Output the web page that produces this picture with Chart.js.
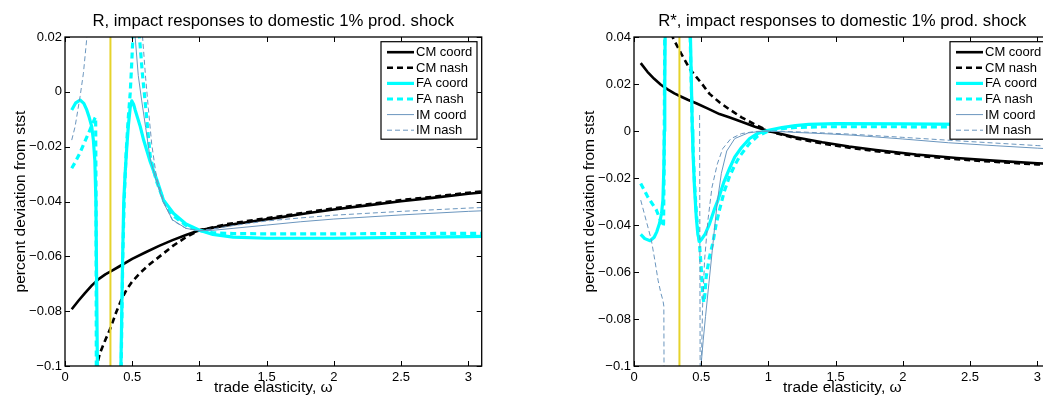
<!DOCTYPE html>
<html><head><meta charset="utf-8">
<script src="https://cdn.jsdelivr.net/npm/chart.js@4.4.1/dist/chart.umd.min.js"></script>
<style>
html,body{margin:0;padding:0;background:#fff;overflow:hidden;width:1043px;height:401px;}
.wrap{position:absolute;top:0;}
canvas{display:block;}
</style></head><body>
<div class="wrap" style="left:0px"><canvas id="c1" width="521" height="401"></canvas></div>
<div class="wrap" style="left:569px"><canvas id="c2" width="521" height="401"></canvas></div>
<script>
// ---------- data (omega, percent deviation); [w, null] = gap ----------
const seriesLabels = ['CM coord','CM nash','FA coord','FA nash','IM coord','IM nash'];
const yellowOmega = 0.338;
const xTicks = [0, 0.5, 1, 1.5, 2, 2.5, 3];
const yTicksR = [-0.1, -0.08, -0.06, -0.04, -0.02, 0, 0.02];
const yTicksS = [-0.1, -0.08, -0.06, -0.04, -0.02, 0, 0.02, 0.04];

// Left panel: R
const R_CMcoord = [[0.05,-0.0793],[0.1,-0.0762],[0.15,-0.0733],[0.2,-0.0706],[0.25,-0.0683],[0.3,-0.0666],[0.35,-0.0652],[0.4,-0.0638],[0.5,-0.0609],[0.6,-0.0585],[0.7,-0.0562],[0.8,-0.0541],[0.9,-0.0522],[1.0,-0.0505],[1.2,-0.0487],[1.4,-0.0472],[1.6,-0.0458],[1.8,-0.0443],[2.0,-0.0429],[2.25,-0.0414],[2.5,-0.0399],[2.75,-0.0386],[3.0,-0.0372],[3.1,-0.0367]];
const R_CMnash = [[0.2,-0.16],[0.22,-0.118],[0.236,-0.1],[0.26,-0.0953],[0.3,-0.0905],[0.34,-0.0860],[0.38,-0.0805],[0.42,-0.0757],[0.46,-0.0720],[0.5,-0.0692],[0.56,-0.0660],[0.62,-0.0633],[0.7,-0.0602],[0.8,-0.0563],[0.9,-0.0530],[1.0,-0.0505],[1.2,-0.0483],[1.4,-0.0468],[1.6,-0.0454],[1.8,-0.0439],[2.0,-0.0425],[2.25,-0.0410],[2.5,-0.0395],[2.75,-0.0382],[3.0,-0.0368],[3.1,-0.0363]];
const R_FAcoord = [[0.05,-0.0066],[0.08,-0.0040],[0.112,-0.0030],[0.14,-0.0042],[0.162,-0.0066],[0.18,-0.0093],[0.199,-0.0127],[0.211,-0.0176],[0.222,-0.0250],[0.23,-0.0400],[0.241,-0.1],[0.245,-0.13],[0.33,null],[0.412,-0.13],[0.416,-0.1],[0.428,-0.062],[0.437,-0.040],[0.447,-0.030],[0.46,-0.020],[0.472,-0.0120],[0.485,-0.0058],[0.497,-0.0033],[0.51,-0.0045],[0.522,-0.0066],[0.54,-0.0095],[0.56,-0.0127],[0.585,-0.0176],[0.634,-0.0255],[0.684,-0.0322],[0.733,-0.0395],[0.808,-0.0444],[0.9,-0.0482],[1.0,-0.0505],[1.1,-0.0520],[1.25,-0.0530],[1.5,-0.0534],[2.0,-0.0534],[2.5,-0.0531],[3.0,-0.0528],[3.1,-0.0527]];
const R_FAnash = [[0.05,-0.0279],[0.08,-0.0253],[0.112,-0.0222],[0.14,-0.0190],[0.174,-0.0152],[0.2,-0.0122],[0.222,-0.0097],[0.228,-0.0092],[0.231,-0.04],[0.234,-0.13],[0.33,null],[0.414,-0.13],[0.418,-0.1],[0.43,-0.06],[0.44,-0.04],[0.455,-0.022],[0.47,-0.010],[0.485,-0.0005],[0.495,0.009],[0.505,0.02],[0.512,0.04],[0.516,0.07],[0.52,null],[0.528,0.08],[0.54,0.035],[0.554,0.02],[0.575,0.007],[0.595,-0.003],[0.615,-0.0135],[0.634,-0.0235],[0.68,-0.0325],[0.735,-0.0398],[0.8,-0.0450],[0.9,-0.0487],[1.0,-0.0506],[1.1,-0.0514],[1.25,-0.0517],[1.5,-0.0518],[2.0,-0.0518],[2.5,-0.0517],[3.1,-0.0516]];
const R_IMcoord = [[0.49,0.08],[0.51,0.035],[0.522,0.02],[0.545,0.006],[0.57,-0.003],[0.6,-0.013],[0.634,-0.0245],[0.68,-0.0325],[0.733,-0.0405],[0.8,-0.0467],[0.9,-0.0498],[1.0,-0.0507],[1.1,-0.0505],[1.25,-0.0498],[1.5,-0.0486],[1.75,-0.0474],[2.0,-0.0464],[2.5,-0.0449],[3.0,-0.0436],[3.1,-0.0434]];
const R_IMnash = [[0.05,-0.0176],[0.075,-0.0127],[0.112,-0.0018],[0.137,0.0068],[0.162,0.0195],[0.18,0.03],[0.2,null],[0.55,0.07],[0.565,0.035],[0.577,0.02],[0.6,0.005],[0.62,-0.006],[0.645,-0.019],[0.68,-0.031],[0.735,-0.0402],[0.8,-0.0469],[0.9,-0.0498],[1.0,-0.0506],[1.1,-0.0500],[1.25,-0.0488],[1.5,-0.0471],[1.75,-0.0460],[2.0,-0.0450],[2.5,-0.0436],[3.0,-0.0424],[3.1,-0.0422]];

// Right panel: R*
const S_CMcoord = [[0.05,0.0289],[0.1,0.0252],[0.15,0.0222],[0.2,0.0197],[0.25,0.0177],[0.3,0.0160],[0.34,0.0149],[0.4,0.0133],[0.463,0.0118],[0.55,0.0095],[0.636,0.0072],[0.713,0.0057],[0.8,0.0039],[0.9,0.0018],[1.0,0.0],[1.2,-0.0027],[1.4,-0.0048],[1.6,-0.0066],[1.8,-0.0081],[2.1,-0.0100],[2.4,-0.0115],[2.7,-0.0127],[3.0,-0.0137],[3.1,-0.0140]];
const S_CMnash = [[0.26,0.05],[0.28,0.0415],[0.29,0.0396],[0.35,0.0330],[0.414,0.0265],[0.463,0.0230],[0.5,0.0205],[0.562,0.0158],[0.64,0.0120],[0.71,0.0092],[0.8,0.0058],[0.9,0.0028],[1.0,0.0],[1.2,-0.0031],[1.4,-0.0053],[1.6,-0.0071],[1.8,-0.0086],[2.1,-0.0105],[2.4,-0.0120],[2.7,-0.0132],[3.0,-0.0142],[3.1,-0.0145]];
const S_FAcoord = [[0.05,-0.0440],[0.08,-0.0458],[0.12,-0.0467],[0.15,-0.0452],[0.17,-0.0428],[0.19,-0.0393],[0.205,-0.0350],[0.215,-0.0294],[0.222,-0.0160],[0.226,0.0],[0.229,0.02],[0.233,0.05],[0.3,null],[0.41,0.07],[0.42,0.04],[0.434,0.0005],[0.438,-0.008],[0.45,-0.024],[0.463,-0.0365],[0.475,-0.0440],[0.488,-0.0471],[0.5,-0.0463],[0.53,-0.0438],[0.562,-0.0395],[0.6,-0.0330],[0.625,-0.0294],[0.67,-0.0215],[0.71,-0.0160],[0.75,-0.0110],[0.8,-0.0070],[0.86,-0.0032],[0.92,-0.0010],[1.0,0.0003],[1.1,0.0015],[1.2,0.0023],[1.3,0.0028],[1.5,0.0031],[2.0,0.0030],[2.5,0.0028],[3.1,0.0026]];
const S_FAnash = [[0.05,-0.0223],[0.1,-0.0278],[0.166,-0.0336],[0.19,-0.0370],[0.215,-0.0407],[0.22,-0.0395],[0.224,-0.015],[0.227,0.02],[0.23,0.06],[0.3,null],[0.41,0.07],[0.418,0.04],[0.434,0.0],[0.45,-0.022],[0.465,-0.036],[0.487,-0.048],[0.5,-0.058],[0.512,-0.0706],[0.52,-0.0730],[0.527,-0.0700],[0.537,-0.0620],[0.56,-0.0540],[0.586,-0.0478],[0.61,-0.0400],[0.636,-0.0336],[0.67,-0.0260],[0.71,-0.0194],[0.75,-0.0145],[0.785,-0.0109],[0.86,-0.0052],[0.92,-0.0022],[1.0,0.0],[1.1,0.0010],[1.2,0.0015],[1.4,0.0018],[2.0,0.0018],[3.1,0.0016]];
const S_IMcoord = [[0.495,-0.13],[0.5,-0.099],[0.515,-0.089],[0.532,-0.079],[0.557,-0.065],[0.582,-0.051],[0.6,-0.041],[0.62,-0.030],[0.65,-0.018],[0.69,-0.0085],[0.75,-0.0032],[0.85,-0.0008],[0.95,-0.0001],[1.0,0.0],[1.2,-0.0006],[1.4,-0.0011],[1.63,-0.0018],[2.0,-0.0034],[2.34,-0.0050],[2.7,-0.0063],[3.0,-0.0073],[3.1,-0.0076]];
const S_IMnash = [[0.05,-0.0294],[0.09,-0.0380],[0.129,-0.0464],[0.155,-0.0550],[0.179,-0.0635],[0.2,-0.0690],[0.215,-0.0720],[0.222,-0.0745],[0.226,-0.15],[0.3,null],[0.488,0.0068],[0.494,-0.15],[0.4955,null],[0.497,-0.15],[0.501,-0.1],[0.51,-0.075],[0.525,-0.055],[0.55,-0.038],[0.58,-0.024],[0.62,-0.014],[0.66,-0.0075],[0.72,-0.0033],[0.8,-0.0011],[0.9,-0.0002],[1.0,0.0],[1.2,-0.0003],[1.6,-0.0013],[2.0,-0.0027],[2.5,-0.0045],[3.0,-0.0062],[3.1,-0.0065]];

// ---------- styling ----------
const FONT = '"Liberation Sans", Arial, Helvetica, sans-serif';
const IMCOL = '#6b96be';
const styles = [
  {color:'#000000', width:2.6, dash:[]},
  {color:'#000000', width:2.6, dash:[6,4]},
  {color:'#00ffff', width:3.2, dash:[]},
  {color:'#00ffff', width:3.2, dash:[6,4]},
  {color:IMCOL, width:1, dash:[]},
  {color:IMCOL, width:1, dash:[5,3]}
];
const toXY = arr => arr.map(p => ({x:p[0], y:p[1]}));
const fmt = v => { const r = Math.round(v*1000)/1000; if (r === 0) return '0'; return (r < 0 ? '\u2212' : '') + String(Math.abs(r)); };

const matlabDecor = {
  id: 'matlabDecor',
  afterDatasetsDraw(chart) {
    const {ctx, chartArea: a, scales: {x, y}} = chart;
    const TL = 5;
    ctx.save();
    // frame
    ctx.strokeStyle = '#000'; ctx.lineWidth = 1.3; ctx.setLineDash([]);
    ctx.strokeRect(a.left, a.top, a.right - a.left, a.bottom - a.top);
    ctx.lineWidth = 1;
    ctx.beginPath();
    x.ticks.forEach(t => { const px = Math.round(x.getPixelForValue(t.value)) + 0.5;
      ctx.moveTo(px, a.bottom); ctx.lineTo(px, a.bottom - TL); ctx.moveTo(px, a.top); ctx.lineTo(px, a.top + TL); });
    y.ticks.forEach(t => { const py = Math.round(y.getPixelForValue(t.value)) + 0.5;
      ctx.moveTo(a.left, py); ctx.lineTo(a.left + TL, py); ctx.moveTo(a.right, py); ctx.lineTo(a.right - TL, py); });
    ctx.stroke();
    // title
    ctx.fillStyle = '#000'; ctx.font = '16.7px ' + FONT; ctx.textAlign = 'center'; ctx.textBaseline = 'alphabetic';
    ctx.fillText(chart.options.plugins.matlabDecor.title, (a.left + a.right) / 2, 26);
    // legend
    const boxW = 96, boxH = 97.5, rowH = 15.6;
    const bx = a.right - 4.7 - boxW, by = a.top + 4.7;
    ctx.fillStyle = '#fff'; ctx.fillRect(bx, by, boxW, boxH);
    ctx.strokeStyle = '#000'; ctx.lineWidth = 1.2; ctx.strokeRect(bx, by, boxW, boxH);
    ctx.font = '13px ' + FONT; ctx.textAlign = 'left'; ctx.textBaseline = 'middle';
    chart.data.datasets.filter(d => d.inLegend).forEach((d, i) => {
      const ry = by + 10.5 + i * rowH;
      ctx.beginPath(); ctx.strokeStyle = d.borderColor; ctx.lineWidth = d.borderWidth; ctx.setLineDash(d.borderDash || []);
      ctx.moveTo(bx + 6, ry); ctx.lineTo(bx + 33, ry); ctx.stroke();
      ctx.setLineDash([]); ctx.fillStyle = '#000'; ctx.fillText(d.label, bx + 35, ry + 0.5);
    });
    ctx.restore();
  }
};

function makeChart(id, title, series, ymin, ymax, yTicks) {
  const datasets = series.map((s, i) => ({
    label: seriesLabels[i], data: toXY(s), inLegend: true,
    borderColor: styles[i].color, borderWidth: styles[i].width, borderDash: styles[i].dash,
    pointRadius: 0, tension: 0, spanGaps: false, fill: false,
    borderCapStyle: 'butt', borderJoinStyle: 'round', order: 7 - i
  }));
  datasets.push({label: 'yellow', data: toXY([[yellowOmega, -1], [yellowOmega, 1]]), inLegend: false,
    borderColor: '#e6d32c', borderWidth: 2, pointRadius: 0, fill: false, order: 0});
  return new Chart(document.getElementById(id), {
    type: 'line',
    data: {datasets},
    options: {
      responsive: false, animation: false, events: [],
      layout: {padding: {top: 37, right: 39.3, bottom: 0, left: 0}},
      plugins: {legend: {display: false}, tooltip: {enabled: false}, title: {display: false}, matlabDecor: {title}},
      scales: {
        x: {type: 'linear', min: 0, max: 3.1,
          afterBuildTicks: s => { s.ticks = xTicks.map(v => ({value: v})); },
          afterFit: s => { s.height = 35; },
          grid: {display: false, drawTicks: false}, border: {display: false},
          ticks: {color: '#000', font: {family: FONT, size: 13}, padding: 4, maxRotation: 0, autoSkip: false, callback: v => String(v)},
          title: {display: true, text: 'trade elasticity, \u03c9', color: '#000', font: {family: FONT, size: 15.5}, padding: {top: 0, bottom: 3.5}}
        },
        y: {type: 'linear', min: ymin, max: ymax,
          afterBuildTicks: s => { s.ticks = yTicks.map(v => ({value: v})); },
          afterFit: s => { s.width = 65; },
          grid: {display: false, drawTicks: false}, border: {display: false},
          ticks: {color: '#000', font: {family: FONT, size: 13}, padding: 3, autoSkip: false, callback: v => fmt(v)},
          title: {display: true, text: 'percent deviation from stst', color: '#000', font: {family: FONT, size: 15.5}, padding: {top: 11, bottom: 0}}
        }
      }
    },
    plugins: [matlabDecor]
  });
}

makeChart('c1', 'R, impact responses to domestic 1% prod. shock',
  [R_CMcoord, R_CMnash, R_FAcoord, R_FAnash, R_IMcoord, R_IMnash], -0.1, 0.02, yTicksR);
makeChart('c2', 'R*, impact responses to domestic 1% prod. shock',
  [S_CMcoord, S_CMnash, S_FAcoord, S_FAnash, S_IMcoord, S_IMnash], -0.1, 0.04, yTicksS);
</script>
</body></html>
